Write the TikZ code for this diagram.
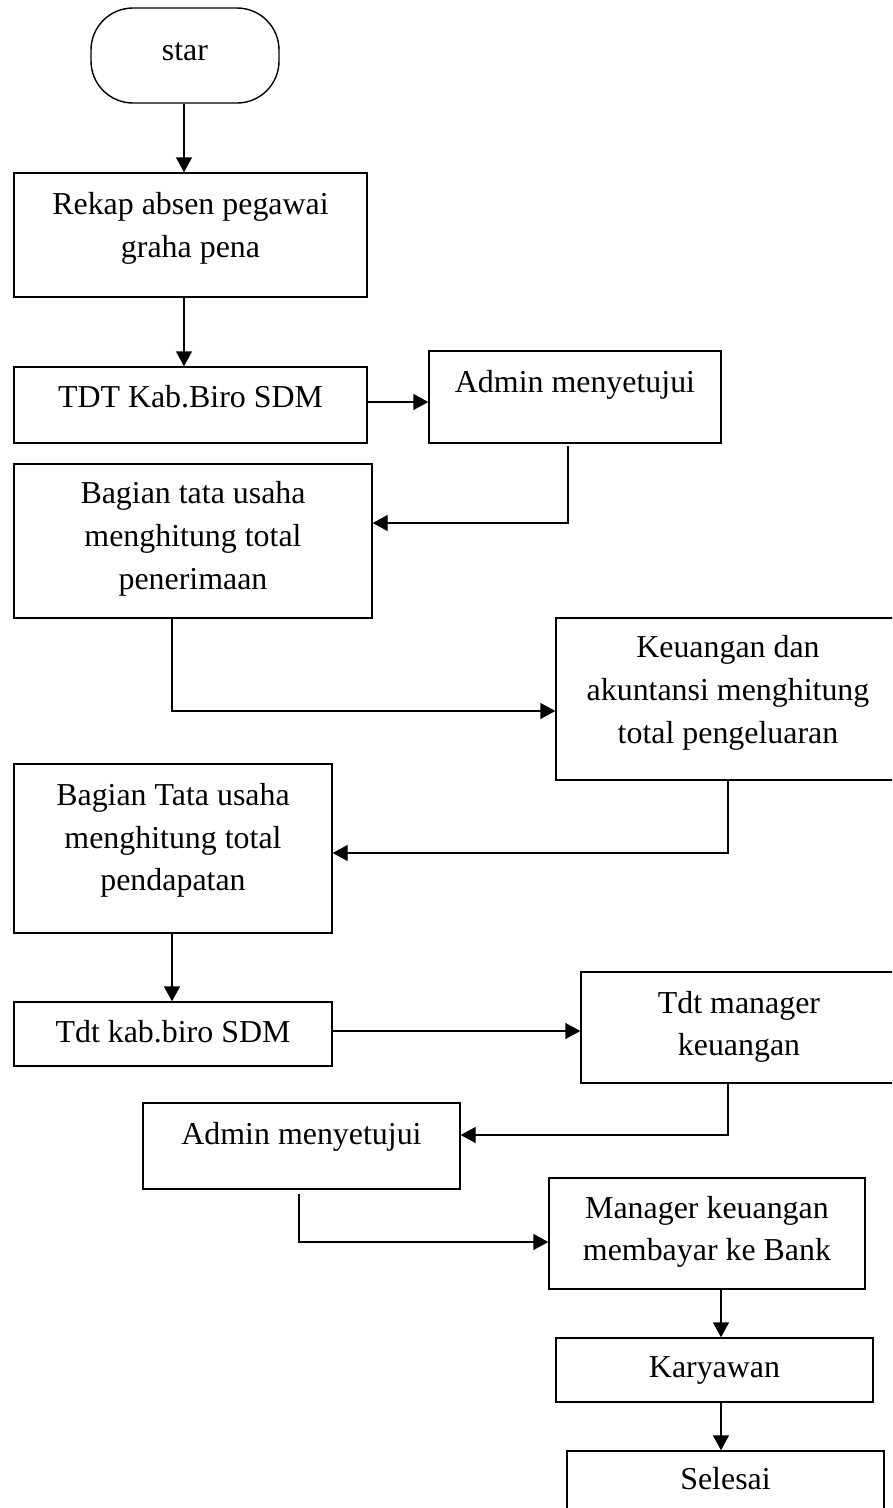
\documentclass[tikz,border=0pt]{standalone}
\usepackage{fontspec}
\setmainfont{Liberation Serif}
\usetikzlibrary{arrows.meta}
\begin{document}
\begin{tikzpicture}[x=1pt,y=-1pt,
  box/.style={draw=black,line width=1.4pt,rectangle,inner sep=0pt},
  term/.style={box,rounded corners=42pt},
  txt/.style={font=\fontsize{31.9}{42.8}\selectfont,align=center,inner sep=0pt},
  arr/.style={line width=1.4pt,-{Triangle[length=15pt,width=16pt]}}]
\clip (0,0) rectangle (892,1508);
\fill[white] (0,0) rectangle (892,1508);
% boxes
\node[term,minimum width=188pt,minimum height=95pt] (star) at (185,55.5) {};
\node[box,minimum width=353pt,minimum height=124pt] (rekap) at (190.5,235) {};
\node[box,minimum width=353pt,minimum height=76pt] (tdt1) at (190.5,405) {};
\node[box,minimum width=292pt,minimum height=92pt] (adm1) at (575,397) {};
\node[box,minimum width=358pt,minimum height=154pt] (bag1) at (193,541) {};
\node[box,minimum width=344pt,minimum height=162pt] (keu) at (728,699) {};
\node[box,minimum width=318pt,minimum height=169pt] (bag2) at (173,848.5) {};
\node[box,minimum width=318pt,minimum height=64pt] (tdt2) at (173,1034) {};
\node[box,minimum width=316pt,minimum height=111pt] (mgr) at (739,1027.5) {};
\node[box,minimum width=317pt,minimum height=86pt] (adm2) at (301.5,1146) {};
\node[box,minimum width=316pt,minimum height=111pt] (man) at (707,1233.5) {};
\node[box,minimum width=317pt,minimum height=64pt] (kar) at (714.5,1370) {};
\node[box,minimum width=317pt,minimum height=69pt] (sel) at (725.5,1485.5) {};
% texts
\node[txt] (starT) at (185,51.5) {\strut star};
\node[txt] (rekapT) at (190.5,227.5) {\strut Rekap absen pegawai\\graha pena\strut};
\node[txt] (tdt1T) at (190.5,399) {\strut TDT Kab.Biro SDM};
\node[txt] (adm1T) at (575,384) {\strut Admin menyetujui};
\node[txt] (bag1T) at (193,538) {\strut Bagian tata usaha\\menghitung total\\penerimaan\strut};
\node[txt] (keuT) at (728,692) {\strut Keuangan dan\\akuntansi menghitung\\total pengeluaran\strut};
\node[txt] (bag2T) at (173,839.5) {\strut Bagian Tata usaha\\menghitung total\\pendapatan\strut};
\node[txt] (tdt2T) at (173,1034) {\strut Tdt kab.biro SDM};
\node[txt] (mgrT) at (739,1026) {\strut Tdt manager\\keuangan\strut};
\node[txt] (adm2T) at (301.5,1135.5) {\strut Admin menyetujui};
\node[txt] (manT) at (707,1231) {\strut Manager keuangan\\membayar ke Bank\strut};
\node[txt] (karT) at (714.5,1369) {\strut Karyawan};
\node[txt] (selT) at (725.5,1480.5) {\strut Selesai};
% helper coordinates
\coordinate (colA) at (184,0);
\coordinate (colB) at (568,0);
\coordinate (colC) at (172,0);
\coordinate (colD) at (299,0);
\coordinate (colR) at (721,0);
% connectors
\draw[arr] (star.south -| colA) -- (rekap.north -| colA);
\draw[arr] (rekap.south -| colA) -- (tdt1.north -| colA);
\draw[arr] ([yshift=3pt]tdt1.east) -- ([yshift=3pt]tdt1.east -| adm1.west);
\draw[arr] ([yshift=-2pt]adm1.south -| colB) |- ([yshift=18pt]bag1.east);
\draw[arr] (bag1.south -| colC) |- ([yshift=-12pt]keu.west);
\draw[arr] (keu.south) |- ([yshift=-4.5pt]bag2.east);
\draw[arr] (bag2.south -| colC) -- (tdt2.north -| colC);
\draw[arr] ([yshift=3pt]tdt2.east) -- ([yshift=3pt]tdt2.east -| mgr.west);
\draw[arr] (mgr.south -| keu.south) |- ([yshift=11pt]adm2.east);
\draw[arr] ([yshift=-4pt]adm2.south -| colD) |- ([yshift=-8.5pt]man.west);
\draw[arr] (man.south -| colR) -- (kar.north -| colR);
\draw[arr] (kar.south -| colR) -- (sel.north -| colR);
\end{tikzpicture}
\end{document}
